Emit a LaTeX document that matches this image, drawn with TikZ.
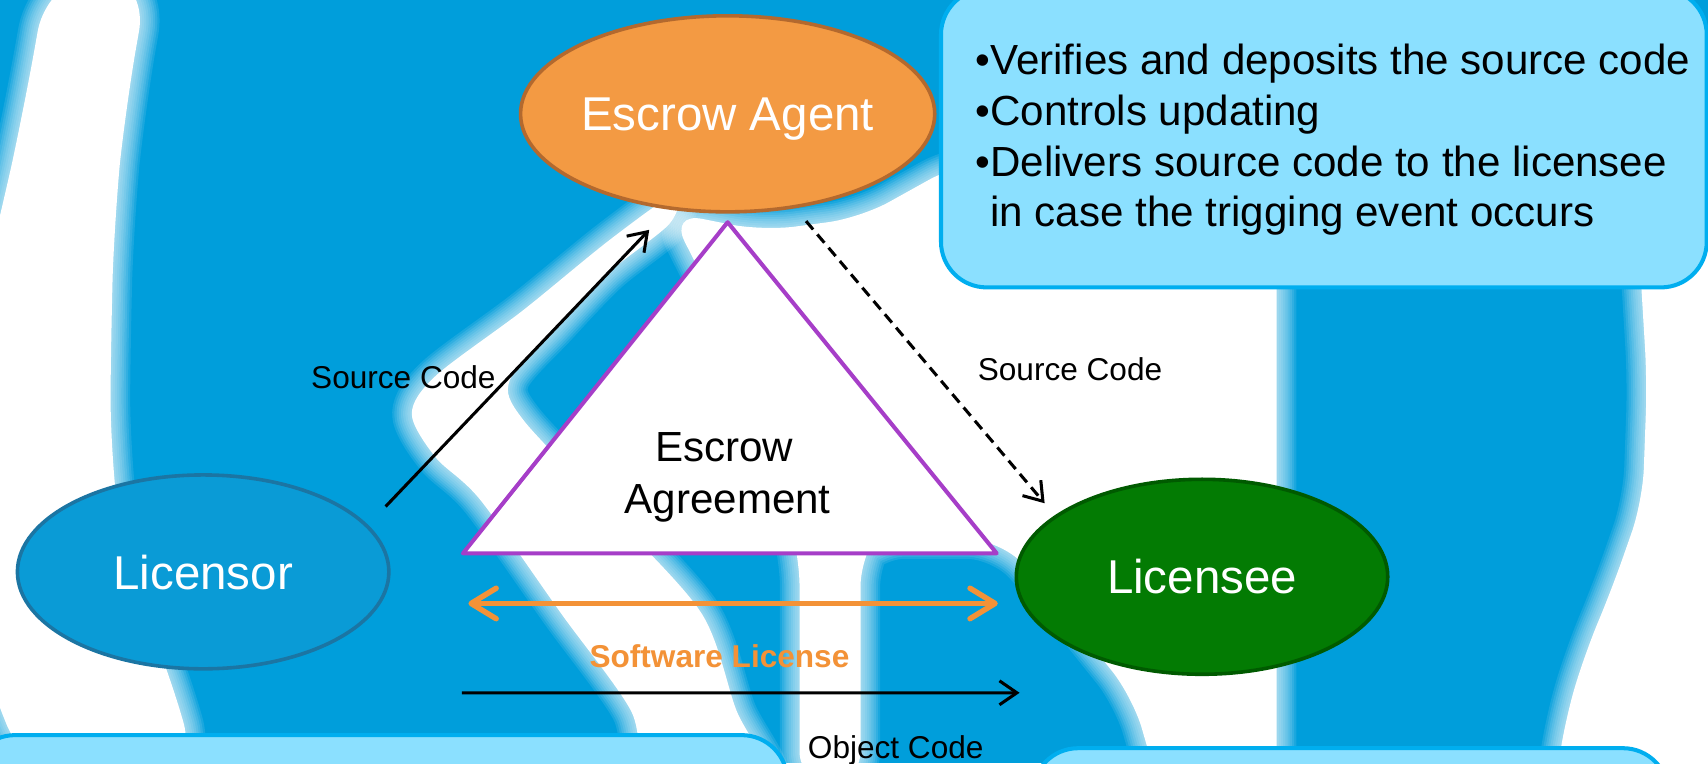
\documentclass[tikz,border=0pt]{standalone}
\usepackage{fontspec}
\setmainfont{Liberation Sans}
\usetikzlibrary{shapes.geometric,arrows.meta,calc}
\definecolor{bgblue}{HTML}{009EDB}
\definecolor{boxfill}{HTML}{8BE0FF}
\definecolor{boxline}{HTML}{00AEEF}
\definecolor{escfill}{HTML}{F39A43}
\definecolor{escline}{HTML}{B3692E}
\definecolor{lorfill}{HTML}{0A9BD6}
\definecolor{lorline}{HTML}{1B75A3}
\definecolor{leefill}{HTML}{037B03}
\definecolor{leeline}{HTML}{005A00}
\definecolor{tripurple}{HTML}{A63EC8}
\definecolor{orangeA}{HTML}{F39237}
\newcommand\softfill[1]{%
  \foreach \w in {3.6,3.2,2.8,2.4,2.0,1.6,1.2,0.8,0.4}{\draw[white,opacity=0.1,line width=\w mm,line join=round] #1;}%
  \fill[white] #1;}
\begin{document}
\begin{tikzpicture}[x=0.1mm,y=-0.1mm,
  ell/.style={ellipse, inner sep=0pt, line width=0.33mm, text=white, font=\fontsize{12.4}{14}\selectfont},
  infobox/.style={draw=boxline, fill=boxfill, line width=0.37mm, rounded corners=4.2mm, inner sep=0pt, anchor=north west},
  boxtext/.style={anchor=base west, inner sep=0pt, font=\fontsize{11}{13}\selectfont},
  tritext/.style={anchor=base, inner sep=0pt, font=\fontsize{11}{13}\selectfont},
  lbl/.style={anchor=base west, inner sep=0pt, font=\fontsize{8.25}{10}\selectfont},
  conn/.style={line width=0.28mm, -{Straight Barb[length=1.6mm,width=2.2mm]}},
  swarrow/.style={orangeA, line width=0.5mm, {Straight Barb[length=2.3mm,width=2.8mm,round]}-{Straight Barb[length=2.3mm,width=2.8mm,round]}},
]
\useasboundingbox (0,0) rectangle (1568,700.5);
\begin{scope}
\clip (0,0) rectangle (1568,700.5);
% background
\fill[bgblue] (0,0) rectangle (1568,700.5);
\softfill{(90,-30) [rounded corners=6mm] -- (138,-30) -- (115,100) -- (105,200) -- (102,300) -- (101,420) -- (115,520) -- (150,600) -- (185,720) -- (28,720) -- (-20,600) -- (-20,280) -- (0,200) -- (22,100) -- (45,-30) -- cycle}
\softfill{plot[smooth cycle] coordinates {(620,178) (560,220) (480,285) (400,345) (378,380) (400,420) (441,459) (515,563) (579,652) (600,720) (705,720) (676,652) (644,563) (560,470) (480,385) (468,349) (511,300) (559,250) (615,205)}}
\softfill{(615,195) [rounded corners=3mm] -- (700,212) -- (790,200) -- (880,150) -- (1172,150) -- (1172,720) -- (1063,720) -- (1040,640) -- (960,540) -- (918,495) -- (800,495) -- (790,508) -- (790,720) -- (734,720) -- (734,508) -- (668,300) -- cycle}
\softfill{(1500,150) [rounded corners=3mm] -- (1600,150) -- (1600,720) -- (1428,720) -- (1437,660) -- (1455,600) -- (1480,540) -- (1508,460) -- (1512,350) -- cycle}

% info boxes
\node[infobox, minimum width=70.3mm, minimum height=27.4mm] (agentbox) at (862,-12) {};
\node[infobox, minimum width=75.1mm, minimum height=12mm] (leftbox) at (-30,673) {};
\node[infobox, minimum width=58.4mm, minimum height=12mm] (rightbox) at (946,685) {};

\node[boxtext] (t1) at (895,68) {•Verifies and deposits the source code};
\node[boxtext] (t2) at (895,115) {•Controls updating};
\node[boxtext] (t3) at (895,162) {•Delivers source code to the licensee};
\node[boxtext] (t4) at (895,208) {\phantom{•}in case the trigging event occurs};

% parties
\node[ell, fill=escfill, draw=escline, minimum width=34mm, minimum height=18mm, text depth=0pt] (escrow) at (668,104.5) {Escrow Agent};
\node[ell, fill=lorfill, draw=lorline, minimum width=34.1mm, minimum height=17.8mm, text depth=0pt] (licensor) at (186.5,525) {Licensor};
\node[ell, fill=leefill, draw=leeline, minimum width=34.1mm, minimum height=17.9mm, text depth=0pt] (licensee) at (1103.5,529.5) {Licensee};

% agreement triangle
\coordinate (tA) at (668,204);
\coordinate (tL) at (425,508);
\coordinate (tR) at (915,508);
\draw[tripurple, fill=white, line width=0.37mm, line join=round] (tA) -- (tL) -- (tR) -- cycle;
\node[tritext] (ea1) at (665,424) {Escrow};
\node[tritext] (ea2) at (668,471) {Agreement};

% connectors
\coordinate (a1s) at ($(licensor.center)+(167.5,-60)$);
\coordinate (a1e) at ($(escrow.center)+(-72,106.5)$);
\draw[conn] (a1s) -- (a1e);
\coordinate (a2s) at ($(escrow.center)+(72,98.5)$);
\coordinate (a2e) at ($(licensee.center)+(-144.5,-67.5)$);
\draw[conn, dash pattern=on 1mm off 0.6mm] (a2s) -- (a2e);
\coordinate (s1) at ($(tL)+(5,46)$);
\coordinate (s2) at ($(tR)+(1,46)$);
\draw[swarrow] (s1) -- (s2);
\coordinate (o1) at ($(tL)+(-1,128)$);
\coordinate (o2) at ($(licensee.center)+(-167.5,106.5)$);
\draw[conn] (o1) -- (o2);

% labels
\node[lbl] (sc1) at (285,357) {Source Code};
\node[lbl] (sc2) at (897,349) {Source Code};
\node[anchor=base, inner sep=0pt, font=\bfseries\fontsize{8.25}{10}\selectfont, text=orangeA] (swl) at (660.5,613) {Software License};
\node[lbl] (oc) at (741,696) {Object Code};
\end{scope}
\end{tikzpicture}
\end{document}
